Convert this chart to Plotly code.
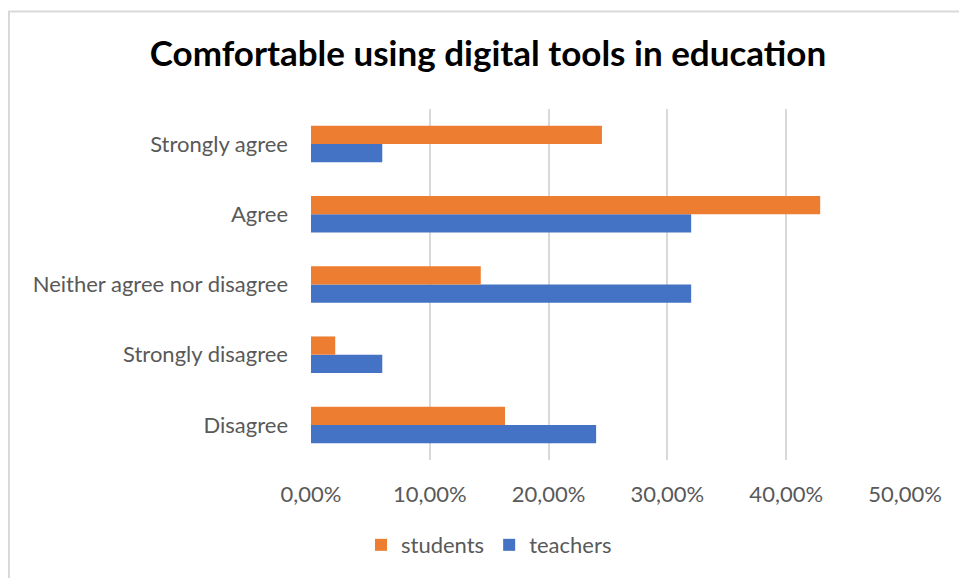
import plotly.graph_objects as go

# Survey answers, listed bottom-to-top as they appear on the y axis
categories = ["Disagree", "Strongly disagree", "Neither agree nor disagree", "Agree", "Strongly agree"]
students = [16.33, 2.04, 14.29, 42.86, 24.49]
teachers = [24.00, 6.00, 32.00, 32.00, 6.00]

ORANGE = "#ED7D31"
BLUE = "#4472C4"
TEXT = "#595959"
GRID = "#D9D9D9"
FONT = "Lato"

fig = go.Figure()
# teachers first so that students sit on top within each group
fig.add_trace(go.Bar(y=categories, x=teachers, orientation="h", name="teachers",
                     marker=dict(color=BLUE, line=dict(width=0)), legendrank=2))
fig.add_trace(go.Bar(y=categories, x=students, orientation="h", name="students",
                     marker=dict(color=ORANGE, line=dict(width=0)), legendrank=1))

W, H = 959, 578
L, R, T, B = 311, 905, 109, 464

def px_x(px):
    return (px - L) / (R - L)

def px_y(py):
    return (B - py) / (B - T)

fig.update_layout(
    width=W, height=H,
    margin=dict(l=L, r=W - R, t=T, b=H - B, pad=0),
    paper_bgcolor="white", plot_bgcolor="white",
    barmode="group", bargap=0.48, bargroupgap=0,
    separators=", ",
    font=dict(family=FONT, color=TEXT, size=22),
    title=dict(text="<b>Comfortable using digital tools in education</b>",
               font=dict(family=FONT, size=35, color="black"),
               x=488 / W, xanchor="center", xref="container",
               y=1 - 54 / H, yanchor="middle", yref="container"),
    xaxis=dict(range=[0, 50], dtick=10, tickformat=".2f", ticksuffix="%",
               showgrid=True, gridcolor=GRID, gridwidth=1.5,
               zeroline=False, showline=False,
               ticks="outside", ticklen=15, tickcolor="rgba(0,0,0,0)",
               tickfont=dict(size=22, color=TEXT), fixedrange=True),
    yaxis=dict(showgrid=False, zeroline=False, showline=False, ticks="",
               ticklabelstandoff=22, tickfont=dict(size=22, color=TEXT),
               fixedrange=True),
    legend=dict(orientation="h", x=px_x(489), xanchor="center",
                y=px_y(550), yanchor="middle",
                font=dict(size=22, color=TEXT), itemwidth=30,
                traceorder="normal"),
    showlegend=True,
    shapes=[
        dict(type="rect", xref="paper", yref="paper",
             x0=px_x(9), x1=px_x(1000), y0=px_y(10.5), y1=px_y(620),
             line=dict(color=GRID, width=2), fillcolor="rgba(0,0,0,0)", layer="below"),
    ],
)

fig.write_html("out.html")
